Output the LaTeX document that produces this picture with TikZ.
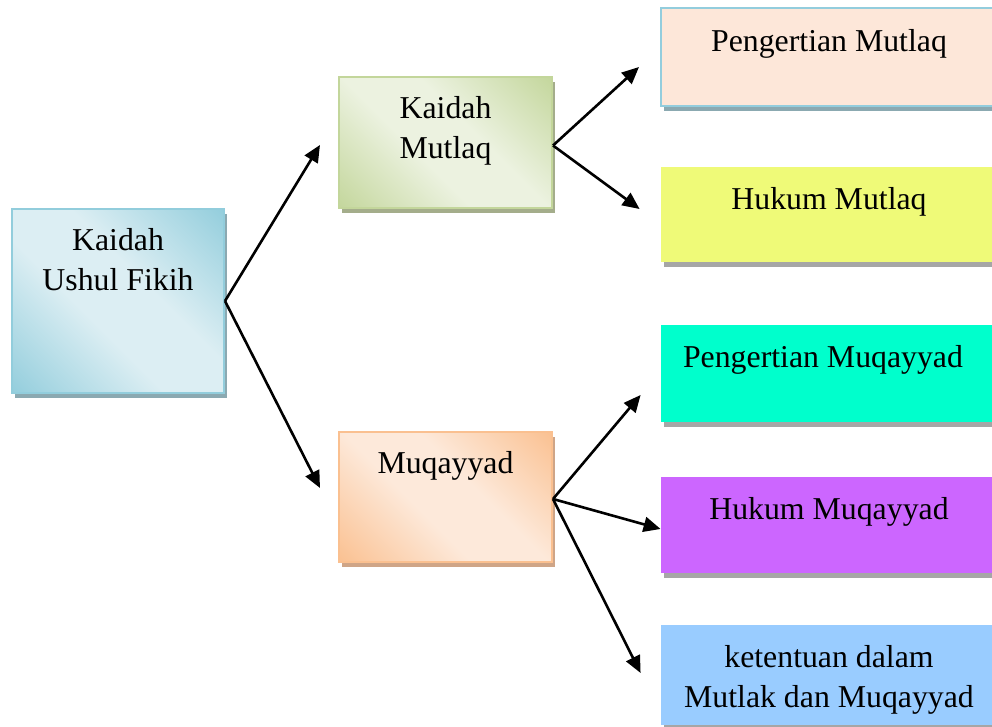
\documentclass[tikz,border=0pt]{standalone}
\usepackage{fontspec}
\setmainfont{Liberation Serif}
\usetikzlibrary{shapes, arrows.meta, positioning, shadows, calc}

\definecolor{aquadark}{HTML}{92CDDC}
\definecolor{aqualight}{HTML}{DCEEF3}
\definecolor{aqualine}{HTML}{93CDDD}
\definecolor{aquashadow}{HTML}{8BA9B1}
\definecolor{olivedark}{HTML}{C3D69B}
\definecolor{olivelight}{HTML}{ECF2E0}
\definecolor{oliveshadow}{HTML}{A4AD8B}
\definecolor{orangedark}{HTML}{FAC090}
\definecolor{orangelight}{HTML}{FDE9DA}
\definecolor{orangeshadow}{HTML}{CFA587}
\definecolor{peach}{HTML}{FDE7D9}
\definecolor{lemon}{HTML}{EFFA78}
\definecolor{aquagreen}{HTML}{00FFCC}
\definecolor{violet}{HTML}{CC66FF}
\definecolor{skyblue}{HTML}{99CCFF}
\definecolor{greyshadow}{HTML}{A6A6A6}

% diagonal band: dark corners, light middle
\pgfdeclarehorizontalshading[gradA,gradB]{diagband}{100bp}{color(0bp)=(gradA); color(14bp)=(gradA); color(42bp)=(gradB); color(58bp)=(gradB); color(86bp)=(gradA); color(100bp)=(gradA)}

\begin{document}
\begin{tikzpicture}[
            x=0.5pt, y=-0.5pt,
            font=\fontsize{15.9}{19.75}\selectfont,
            % gradient boxes on the left
            gradbox/.style n args={3}{
                draw=#1, line width=1pt,
                rectangle,
                /utils/exec={\colorlet{gradA}{#1}\colorlet{gradB}{#2}},
                shade, shading=diagband, shading angle=45,
                drop shadow={shadow xshift=1.5pt, shadow yshift=-2.5pt,
                    fill=#3, opacity=1}
            },
            % flat boxes on the right
            flatbox/.style 2 args={
                rectangle, fill=#1,
                minimum width=168pt,
                drop shadow={shadow xshift=1.5pt, shadow yshift=-2.5pt,
                    fill=#2, opacity=1}
            },
            boxtext/.style={anchor=base, yshift=-21.5pt, align=center, inner sep=0pt},
            twolines/.style={yshift=-19.75pt},
            arrow/.style={-{Triangle[length=8.5pt, width=7.5pt]}, line width=1.3pt}
        ]
        \useasboundingbox (0,0) rectangle (992,727);

        % Root
        \node[gradbox={aquadark}{aqualight}{aquashadow},
              minimum width=106pt, minimum height=92pt,
              label={[boxtext, twolines]north:{Kaidah\\Ushul Fikih}}] (root) at (118,301) {};

        % Second level
        \node[gradbox={olivedark}{olivelight}{oliveshadow},
              minimum width=106.5pt, minimum height=65.5pt,
              label={[boxtext, twolines]north:{Kaidah\\Mutlaq}}] (mutlaq) at (445.5,142.5) {};
        \node[gradbox={orangedark}{orangelight}{orangeshadow},
              minimum width=106.5pt, minimum height=65pt,
              label={[boxtext]north:{Muqayyad}}] (muqayyad) at (445.5,497) {};

        % Third level
        \node[flatbox={peach}{aquashadow}, draw=aqualine, line width=1pt,
              minimum height=49pt,
              label={[boxtext, yshift=-1pt]north:{Pengertian Mutlaq}}] (pmutlaq) at (829,57) {};
        \node[flatbox={lemon}{greyshadow}, minimum height=47.5pt,
              label={[boxtext]north:{Hukum Mutlaq}}] (hmutlaq) at (829,214.5) {};
        \node[flatbox={aquagreen}{greyshadow}, minimum height=48.5pt,
              label={[boxtext, xshift=-3pt]north:{Pengertian Muqayyad}}] (pmuqayyad) at (829,373.5) {};
        \node[flatbox={violet}{greyshadow}, minimum height=48pt,
              label={[boxtext]north:{Hukum Muqayyad}}] (hmuqayyad) at (829,525) {};
        \node[flatbox={skyblue}{greyshadow}, minimum height=50pt,
              label={[boxtext, twolines]north:{ketentuan dalam\\Mutlak dan Muqayyad}}] (ketentuan) at (829,675) {};

        % Arrows
        \draw[arrow] (root.east) -- ([shift={(-18,2.5)}]mutlaq.west);
        \draw[arrow] (root.east) -- ([shift={(-18,-9)}]muqayyad.west);
        \draw[arrow] ([yshift=-1.5pt]mutlaq.east) -- ([shift={(-21,10)}]pmutlaq.west);
        \draw[arrow] ([yshift=-1.5pt]mutlaq.east) -- ([shift={(-21,-5.5)}]hmutlaq.west);
        \draw[arrow] ([yshift=-1pt]muqayyad.east) -- ([shift={(-20,21.5)}]pmuqayyad.west);
        \draw[arrow] ([yshift=-1pt]muqayyad.east) -- ([shift={(0,4)}]hmuqayyad.west);
        \draw[arrow] ([yshift=-1pt]muqayyad.east) -- ([shift={(-20,-2)}]ketentuan.west);

        \end{tikzpicture}
\end{document}
